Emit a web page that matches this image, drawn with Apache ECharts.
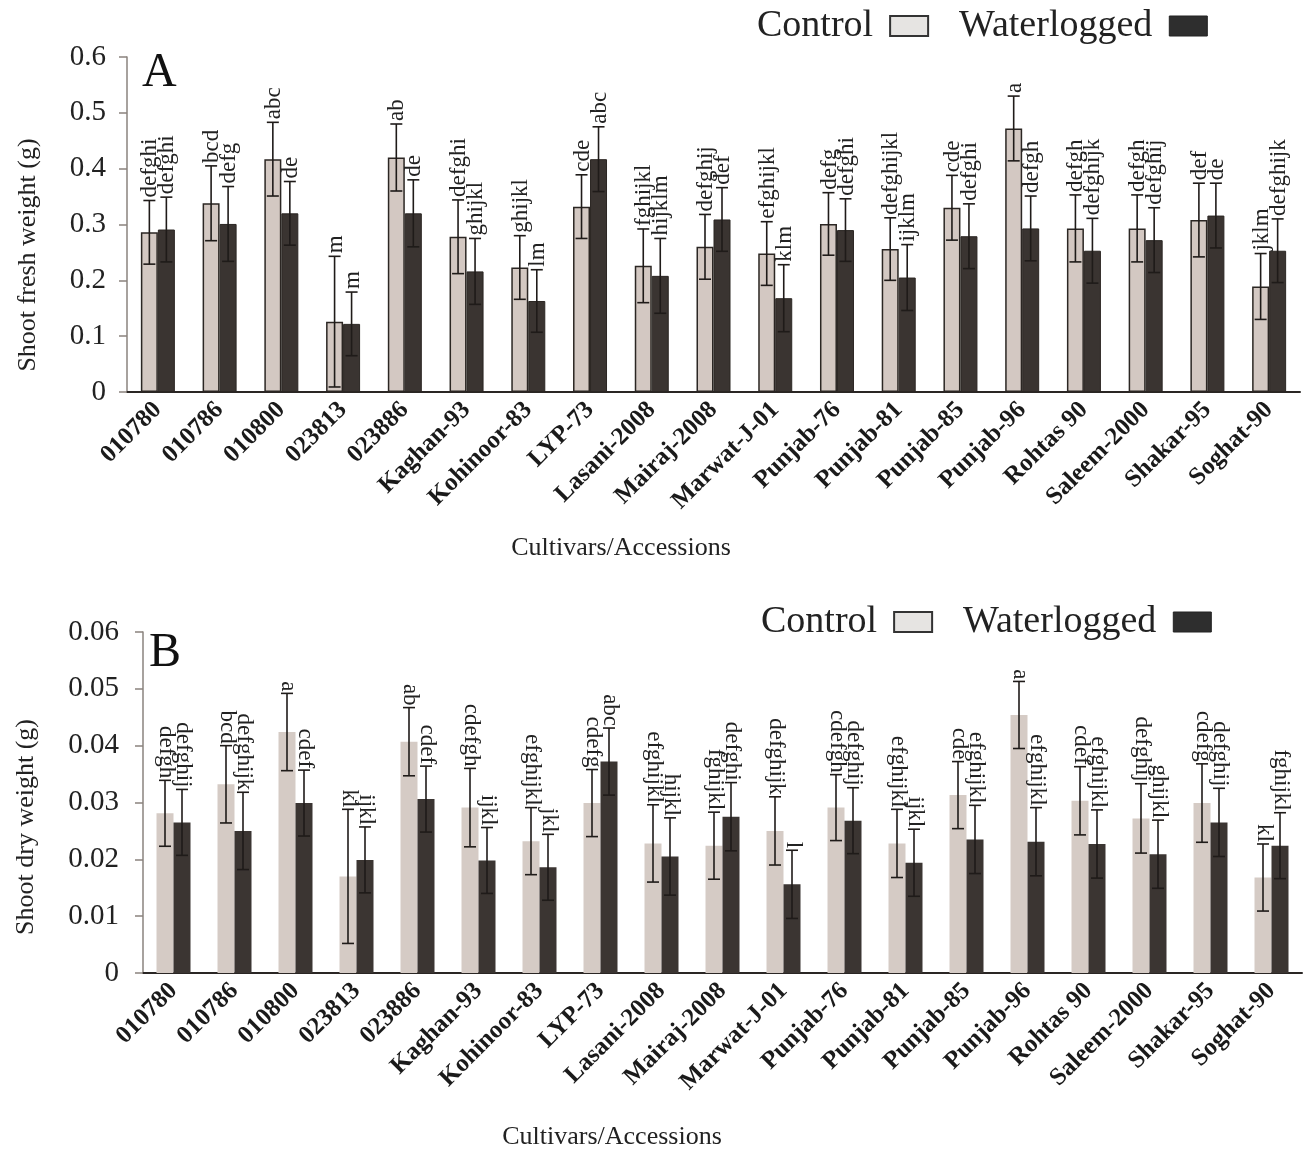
<!DOCTYPE html>
<html><head><meta charset="utf-8">
<script src="https://cdn.jsdelivr.net/npm/echarts@6/dist/echarts.min.js"></script>
<style>html,body{margin:0;padding:0;background:#fff}#c{width:1304px;height:1151px}</style>
</head><body><div id="c"></div>
<script>
const categories = ["010780","010786","010800","023813","023886","Kaghan-93","Kohinoor-83","LYP-73","Lasani-2008","Mairaj-2008","Marwat-J-01","Punjab-76","Punjab-81","Punjab-85","Punjab-96","Rohtas 90","Saleem-2000","Shakar-95","Soghat-90"];

// Panel A: shoot fresh weight (g)
const freshControl = [0.286,0.338,0.417,0.126,0.420,0.278,0.223,0.332,0.226,0.260,0.248,0.301,0.256,0.330,0.472,0.293,0.293,0.308,0.189];
const freshControlErr = [0.057,0.067,0.066,0.117,0.060,0.066,0.057,0.057,0.066,0.058,0.057,0.056,0.056,0.058,0.058,0.060,0.060,0.066,0.059];
const freshWater = [0.291,0.301,0.320,0.122,0.320,0.216,0.163,0.417,0.208,0.309,0.168,0.290,0.205,0.279,0.293,0.253,0.272,0.316,0.253];
const freshWaterErr = [0.058,0.067,0.057,0.057,0.060,0.059,0.056,0.058,0.067,0.057,0.060,0.056,0.059,0.058,0.058,0.058,0.058,0.058,0.057];
const freshControlLetters = ["defghi","bcd","abc","m","ab","defghi","ghijkl","cde","fghijkl","defghij","efghijkl","defg","defghijkl","cde","a","defgh","defgh","def","jklm"];
const freshWaterLetters = ["defghi","defg","de","m","de","ghijkl","lm","abc","hijklm","def","klm","defghi","ijklm","defghi","defgh","defghijk","defghij","de","defghijk"];

// Panel B: shoot dry weight (g)
const dryControl = [0.0281,0.0332,0.0424,0.0170,0.0407,0.0291,0.0232,0.0299,0.0228,0.0224,0.0250,0.0291,0.0228,0.0313,0.0454,0.0303,0.0272,0.0299,0.0168];
const dryControlErr = [0.0058,0.0068,0.0068,0.0118,0.0060,0.0069,0.0059,0.0059,0.0068,0.0059,0.0060,0.0058,0.0060,0.0059,0.0059,0.0060,0.0061,0.0069,0.0059];
const dryWater = [0.0265,0.0250,0.0299,0.0199,0.0306,0.0198,0.0186,0.0372,0.0205,0.0275,0.0156,0.0268,0.0194,0.0235,0.0231,0.0227,0.0209,0.0265,0.0224];
const dryWaterErr = [0.0058,0.0068,0.0058,0.0058,0.0058,0.0058,0.0058,0.0059,0.0068,0.0060,0.0060,0.0058,0.0059,0.0060,0.0060,0.0060,0.0060,0.0060,0.0058];
const dryControlLetters = ["defgh","bcd","a","kl","ab","cdefgh","efghijkl","cdefg","efghijkl","fghijkl","defghijk","cdefgh","efghijkl","cde","a","cdef","defghij","cdefg","kl"];
const dryWaterLetters = ["defghij","defghijk","cdef","ijkl","cdef","ijkl","jkl","abc","hijkl","defghi","l","defghij","ijkl","efghijkl","efghijkl","efghijkl","ghijkl","defghij","fghijkl"];

const seriesNames = ["Control","Waterlogged"];
const xTitle = "Cultivars/Accessions";
const yTitleA = "Shoot fresh weight (g)";
const yTitleB = "Shoot dry weight (g)";

const FONT = '"Liberation Serif","Times New Roman",serif';
const BAR_W = 17;
const INK = '#1f1b19';

function errSeries(xi, vals, errs, letters, side, rot, gap) {
  return {
    type: 'custom', xAxisIndex: xi, yAxisIndex: xi, z: 10, silent: true,
    data: vals.map((v, i) => [i, v, errs[i]]),
    encode: { x: 0, y: 1 },
    renderItem: function (params, api) {
      const i = api.value(0), v = api.value(1), e = api.value(2);
      const top = api.coord([i, v + e]);
      const bot = api.coord([i, v - e]);
      const x = top[0] + side * BAR_W / 2;
      const hw = 6;
      const ls = { stroke: INK, lineWidth: 1.6 };
      return { type: 'group', children: [
        { type: 'line', shape: { x1: x, y1: top[1], x2: x, y2: bot[1] }, style: ls },
        { type: 'line', shape: { x1: x - hw, y1: top[1], x2: x + hw, y2: top[1] }, style: ls },
        { type: 'line', shape: { x1: x - hw, y1: bot[1], x2: x + hw, y2: bot[1] }, style: ls },
        { type: 'text', x: x + 1, y: top[1] - gap, rotation: rot,
          style: { text: letters[i], font: '23px ' + FONT, fill: '#222',
                   align: rot > 0 ? 'left' : 'right', verticalAlign: 'middle' } }
      ]};
    }
  };
}

function xAxisCfg(gi) {
  return {
    type: 'category', gridIndex: gi, data: categories,
    axisLine: { lineStyle: { color: '#2a2624', width: 2 } },
    axisTick: { show: false },
    axisLabel: { rotate: 45, interval: 0, margin: 14, color: '#1a1a1a', fontFamily: FONT, fontWeight: 'bold', fontSize: 25 }
  };
}
function yAxisCfg(gi, max, interval, dec, margin) {
  return {
    type: 'value', gridIndex: gi, min: 0, max: max, interval: interval,
    splitLine: { show: false },
    axisLine: { show: true, lineStyle: { color: '#8a837e', width: 1.5 } },
    axisTick: { show: true, length: 8, lineStyle: { color: '#8a837e', width: 1.5 } },
    axisLabel: { color: '#222', fontFamily: FONT, fontSize: 29, margin: margin,
      formatter: v => v === 0 ? '0' : v.toFixed(dec) }
  };
}
function legendCfg(top, left) {
  return {
    top: top, left: left, align: 'right', itemGap: 30, itemWidth: 38, itemHeight: 20,
    selectedMode: false,
    textStyle: { fontFamily: FONT, fontSize: 38, color: '#222', padding: [0, 12, 0, 0] },
    data: [
      { name: seriesNames[0], icon: 'rect', itemStyle: { color: '#e6e4e2', borderColor: '#333', borderWidth: 2 } },
      { name: seriesNames[1], icon: 'rect', itemStyle: { color: '#2e2e2e', borderColor: '#222', borderWidth: 1 } }
    ]
  };
}

const chart = echarts.init(document.getElementById('c'), null, { renderer: 'canvas' });
chart.setOption({
  backgroundColor: '#fff',
  animation: false,
  grid: [
    { left: 127, right: 4, top: 57, height: 335 },
    { left: 143, right: 2, top: 632, height: 341 }
  ],
  legend: [legendCfg(2, 752), legendCfg(598, 756)],
  xAxis: [xAxisCfg(0), xAxisCfg(1)],
  yAxis: [yAxisCfg(0, 0.6, 0.1, 1, 21), yAxisCfg(1, 0.06, 0.01, 2, 24)],
  graphic: [
    { type: 'text', left: 142, top: 49, style: { text: 'A', font: '48px ' + FONT, fill: '#111' } },
    { type: 'text', left: 149, top: 629, style: { text: 'B', font: '48px ' + FONT, fill: '#111' } },
    { type: 'text', x: 621, y: 548, style: { text: xTitle, font: '26px ' + FONT, fill: '#222', align: 'center', verticalAlign: 'middle' } },
    { type: 'text', x: 612, y: 1137, style: { text: xTitle, font: '26px ' + FONT, fill: '#222', align: 'center', verticalAlign: 'middle' } },
    { type: 'text', x: 28, y: 255, rotation: Math.PI / 2, style: { text: yTitleA, font: '26px ' + FONT, fill: '#222', align: 'center', verticalAlign: 'middle' } },
    { type: 'text', x: 26, y: 827, rotation: Math.PI / 2, style: { text: yTitleB, font: '26px ' + FONT, fill: '#222', align: 'center', verticalAlign: 'middle' } }
  ],
  series: [
    { name: seriesNames[0], type: 'bar', xAxisIndex: 0, yAxisIndex: 0, data: freshControl, barWidth: BAR_W, barGap: '0%',
      itemStyle: { color: '#d3c8c2', borderColor: '#2b2623', borderWidth: 1.5 } },
    { name: seriesNames[1], type: 'bar', xAxisIndex: 0, yAxisIndex: 0, data: freshWater, barWidth: BAR_W, barGap: '0%',
      itemStyle: { color: '#3a3431', borderColor: '#2b2623', borderWidth: 1 } },
    { name: seriesNames[0], type: 'bar', xAxisIndex: 1, yAxisIndex: 1, data: dryControl, barWidth: BAR_W, barGap: '0%',
      itemStyle: { color: '#d5cbc5' } },
    { name: seriesNames[1], type: 'bar', xAxisIndex: 1, yAxisIndex: 1, data: dryWater, barWidth: BAR_W, barGap: '0%',
      itemStyle: { color: '#3b3532' } },
    errSeries(0, freshControl, freshControlErr, freshControlLetters, -1, Math.PI / 2, 3),
    errSeries(0, freshWater, freshWaterErr, freshWaterLetters, 1, Math.PI / 2, 3),
    errSeries(1, dryControl, dryControlErr, dryControlLetters, -1, -Math.PI / 2, 2),
    errSeries(1, dryWater, dryWaterErr, dryWaterLetters, 1, -Math.PI / 2, 2)
  ]
});
</script></body></html>
